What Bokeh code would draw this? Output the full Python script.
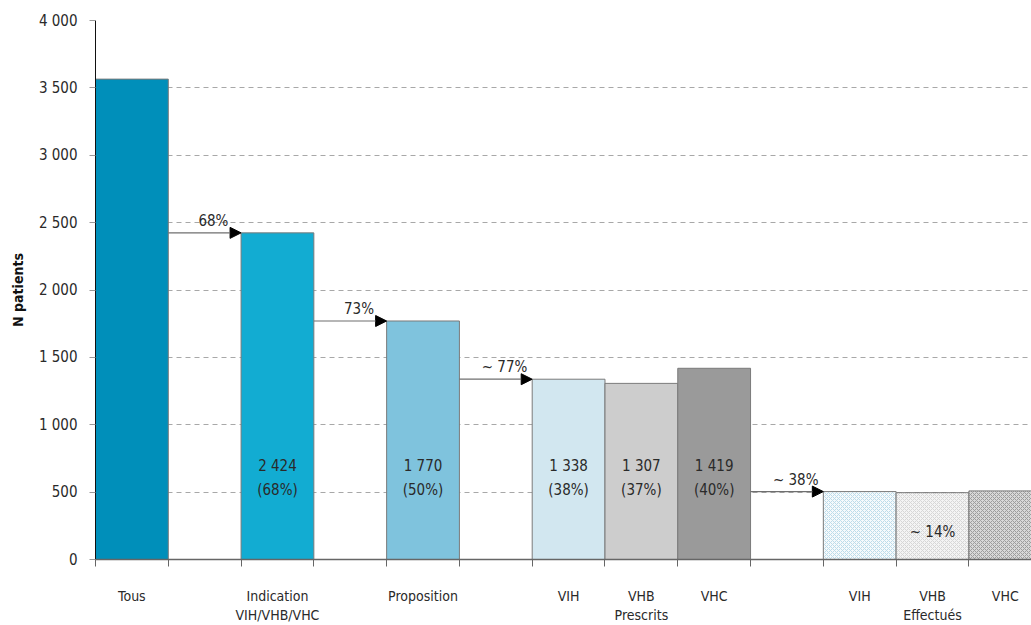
from bokeh.plotting import figure
from bokeh.models import Range1d, FixedTicker, Arrow, NormalHead, ColumnDataSource
from bokeh.core.properties import value
from bokeh.embed import file_html
from bokeh.resources import INLINE

# ---- data ----
categories = ["Tous", "Indication VIH/VHB/VHC", "Proposition",
              "VIH prescrit", "VHB prescrit", "VHC prescrit",
              "VIH effectué", "VHB effectué", "VHC effectué"]
slots = [0, 2, 4, 6, 7, 8, 10, 11, 12]          # slot index of each bar
values = [3565, 2424, 1770, 1338, 1307, 1419, 504, 496, 509]
pct_labels = ["", "(68%)", "(50%)", "(38%)", "(37%)", "(40%)", "", "", ""]
tick_labels = {0.5: "Tous", 2.5: "Indication\nVIH/VHB/VHC", 4.5: "Proposition",
               6.5: "VIH", 7.5: "VHB\nPrescrits", 8.5: "VHC",
               10.5: "VIH", 11.5: "VHB\nEffectués", 12.5: "VHC"}
arrow_pairs = [(0, 1), (1, 2), (2, 3), (5, 6)]
arrow_texts = ["68%", "73%", "~ 77%", "~ 38%"]
y_ticks = [0, 500, 1000, 1500, 2000, 2500, 3000, 3500, 4000]
note_text = "~ 14%"
note_bar = 7
note_y = 207
inside_label_y = 607

colors = ["#008FBA", "#12ACD2", "#7FC3DD", "#D2E7F0", "#CDCDCD", "#9A9A9A",
          "#F6FAFC", "#F4F4F4", "#D8D8D8"]
hatch_colors = [None, None, None, None, None, None, "#BCDCEA", "#D6D6D6", "#9C9C9C"]

FONT = "'Liberation Sans Narrow', 'DejaVu Sans Condensed', 'Roboto', sans-serif"
TXT = "#2a2a2a"

p = figure(width=1031, height=625, output_backend="svg", toolbar_location=None,
           x_range=Range1d(0, 12.86), y_range=Range1d(0, 4000),
           min_border_left=95, min_border_right=0, min_border_top=20, min_border_bottom=65)
p.outline_line_color = None
p.background_fill_color = "white"

# bars
x_centers = [s + 0.5 for s in slots]
solid = [i for i in range(len(values)) if hatch_colors[i] is None]
hatched = [i for i in range(len(values)) if hatch_colors[i] is not None]
src_s = ColumnDataSource(dict(x=[x_centers[i] for i in solid], top=[values[i] for i in solid],
                              c=[colors[i] for i in solid]))
p.vbar(x="x", top="top", width=1.0, bottom=0, source=src_s, fill_color="c",
       line_color="#7a7a7a", line_width=1)
src_h = ColumnDataSource(dict(x=[x_centers[i] for i in hatched], top=[values[i] for i in hatched],
                              c=[colors[i] for i in hatched], h=[hatch_colors[i] for i in hatched]))
p.vbar(x="x", top="top", width=1.0, bottom=0, source=src_h, fill_color="c",
       hatch_pattern="x", hatch_color="h", hatch_scale=4, hatch_weight=1,
       line_color="#7a7a7a", line_width=1)

# value labels inside bars
lab_idx = [i for i in range(len(values)) if pct_labels[i]]
num_txt = [f"{values[i]:,}".replace(",", " ") for i in lab_idx]
p.text(x=[x_centers[i] for i in lab_idx], y=[inside_label_y] * len(lab_idx), text=num_txt,
       text_align="center", text_baseline="middle", text_font=value(FONT),
       text_font_size="15px", text_color=TXT, y_offset=-12)
p.text(x=[x_centers[i] for i in lab_idx], y=[inside_label_y] * len(lab_idx),
       text=[pct_labels[i] for i in lab_idx],
       text_align="center", text_baseline="middle", text_font=value(FONT),
       text_font_size="15px", text_color=TXT, y_offset=12)
p.text(x=[x_centers[note_bar]], y=[note_y], text=[note_text], text_align="center",
       text_baseline="middle", text_font=value(FONT), text_font_size="15px", text_color=TXT)

# arrows
for (a, b), t in zip(arrow_pairs, arrow_texts):
    xs = x_centers[a] + 0.5
    xe = x_centers[b] - 0.5
    yv = values[b]
    p.add_layout(Arrow(end=NormalHead(size=11, fill_color="black", line_color="black"),
                       x_start=xs, y_start=yv, x_end=xe, y_end=yv,
                       line_color="#6f6f6f", line_width=1.2))
    p.text(x=[(xs + xe) / 2 + 0.12], y=[yv], text=[t], text_align="center",
           text_baseline="bottom", text_font=value(FONT), text_font_size="15px",
           text_color=TXT, y_offset=-3)

# y axis
p.yaxis.ticker = FixedTicker(ticks=y_ticks)
p.yaxis.major_label_overrides = {v: f"{v:,}".replace(",", " ") for v in y_ticks}
p.yaxis.axis_label = "N patients"
p.yaxis.axis_label_text_font = FONT
p.yaxis.axis_label_text_font_style = "bold"
p.yaxis.axis_label_text_font_size = "14px"
p.yaxis.axis_label_text_color = "#111"
p.yaxis.axis_label_standoff = 10
p.yaxis.major_label_text_font = FONT
p.yaxis.major_label_text_font_size = "15px"
p.yaxis.major_label_text_color = TXT
p.yaxis.major_tick_in = 0
p.yaxis.major_tick_out = 6
p.yaxis.major_tick_line_color = "#999"
p.yaxis.minor_tick_line_color = None
p.yaxis.axis_line_color = "#111"
p.yaxis.major_label_standoff = 12

# x axis
boundaries = sorted(set([s for s in slots] + [s + 1 for s in slots]))
p.xaxis.ticker = FixedTicker(ticks=list(tick_labels.keys()), minor_ticks=boundaries)
p.xaxis.major_label_overrides = tick_labels
p.xaxis.major_tick_in = 0
p.xaxis.major_tick_out = 0
p.xaxis.minor_tick_in = 0
p.xaxis.minor_tick_out = 7
p.xaxis.minor_tick_line_color = "#666"
p.xaxis.axis_line_color = "#666"
p.xaxis.axis_line_width = 1.5
p.xaxis.major_label_text_font = FONT
p.xaxis.major_label_text_font_size = "14px"
p.xaxis.major_label_text_color = TXT
p.xaxis.major_label_standoff = 21

p.xgrid.grid_line_color = None
p.ygrid.ticker = FixedTicker(ticks=y_ticks)
p.ygrid.grid_line_color = "#a8a8a8"
p.ygrid.grid_line_dash = "5 4"
p.ygrid.grid_line_width = 1

open("out.html", "w").write(file_html(p, INLINE))
